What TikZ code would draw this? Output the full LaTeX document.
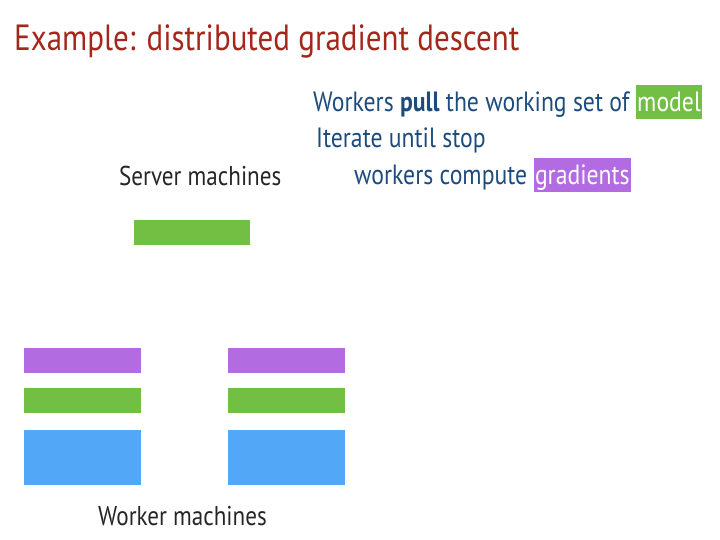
\documentclass[tikz,border=0pt]{standalone}
\usepackage{fontspec}
\setmainfont[FakeStretch=0.85]{PT Sans}
\definecolor{titlered}{HTML}{A3281B}
\definecolor{textblue}{HTML}{1D4C7C}
\definecolor{modelgreen}{HTML}{72BF44}
\definecolor{gradpurple}{HTML}{B26BE0}
\definecolor{datablue}{HTML}{52A8F7}
\newcommand{\hlbox}[2]{{\setlength{\fboxsep}{1.5pt}\colorbox{#1}{\textcolor{white}{\rule[-6bp]{0pt}{32bp}#2}}}}
\begin{document}
\begin{tikzpicture}[x=1bp,y=-1bp,
    block/.style={fill=#1,draw=none,inner sep=0pt,anchor=north west},
    label text/.style={anchor=base west,inner sep=0pt,text=black!85,font=\fontsize{27.3}{32}\selectfont},
    step text/.style={anchor=base west,inner sep=0pt,text=textblue,font=\fontsize{28}{34}\selectfont}]
    \useasboundingbox (0,0) rectangle (720,540);

    \node[anchor=base west,inner sep=0pt,text=titlered,font=\fontsize{36.6}{44}\selectfont] at (14,51) (title) {Example: distributed gradient descent};

    \node[step text] at (313,112) (pull) {Workers \textbf{pull} the working set of \hlbox{modelgreen}{model}};
    \node[step text] at (316,148) (iterate) {Iterate until stop};
    \node[step text] at (354,185) (compute) {workers compute \hlbox{gradpurple}{gradients}};

    \node[label text] at (119,186) (server) {Server machines};
    \node[block=modelgreen,minimum width=116bp,minimum height=25bp] at (134,220) (smodel) {};

    % worker 1
    \node[block=gradpurple,minimum width=117bp,minimum height=25bp] at (24,348) (grada) {};
    \node[block=modelgreen,minimum width=117bp,minimum height=25bp] at (24,388) (modela) {};
    \node[block=datablue,minimum width=117bp,minimum height=55bp] at (24,430) (dataa) {};
    % worker 2
    \node[block=gradpurple,minimum width=117bp,minimum height=25bp] at (228,348) (gradb) {};
    \node[block=modelgreen,minimum width=117bp,minimum height=25bp] at (228,388) (modelb) {};
    \node[block=datablue,minimum width=117bp,minimum height=55bp] at (228,430) (datab) {};

    \node[label text] at (98,525) (worker) {Worker machines};
\end{tikzpicture}
\end{document}
